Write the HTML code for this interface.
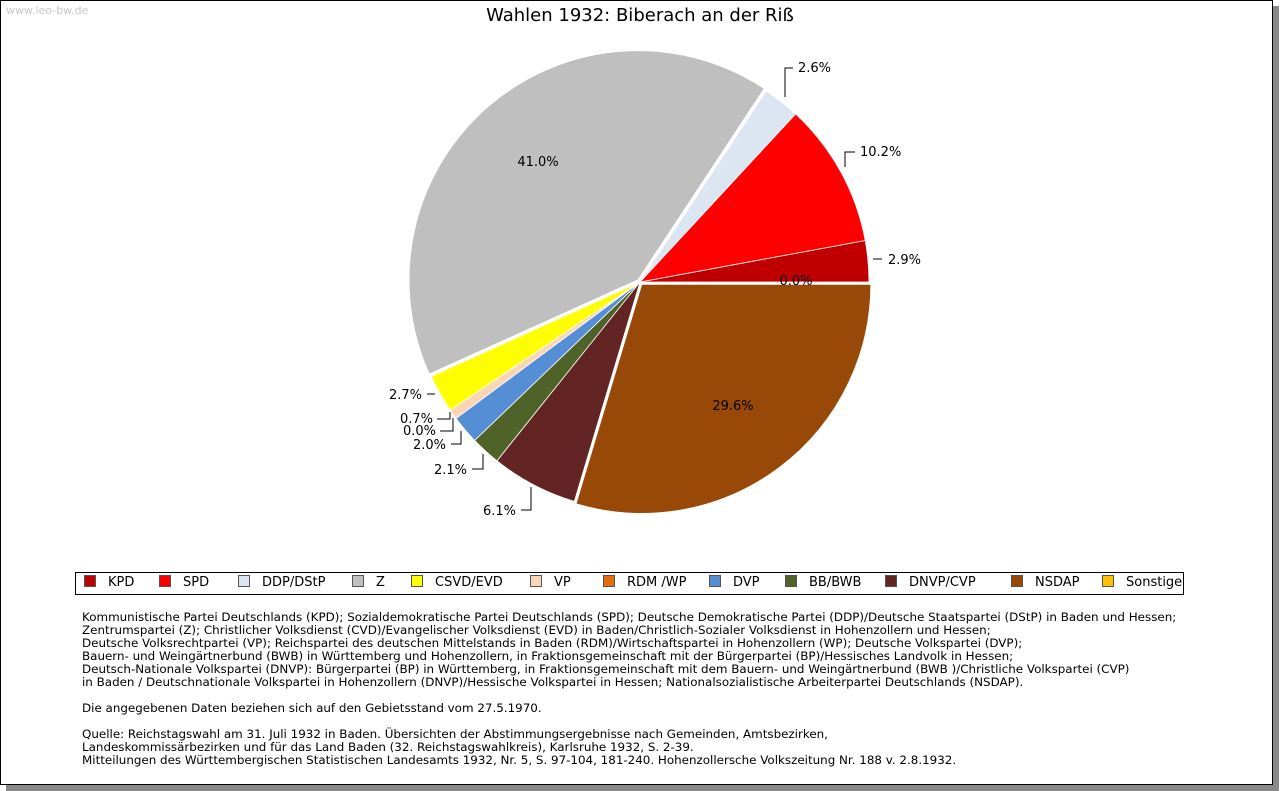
<!DOCTYPE html>
<html><head><meta charset="utf-8"><style>
body{margin:0;background:#fff;width:1280px;height:791px;overflow:hidden;font-family:"DejaVu Sans","Liberation Sans",sans-serif}
#frame{position:absolute;left:0;top:0;width:1271px;height:783px;border:1px solid #000;box-shadow:6px 6px 0 #888;background:#fff}
#wm{position:absolute;left:6px;top:4px;font-size:11px;color:#c8c8c8}
#title{position:absolute;left:0;width:1280px;top:5px;text-align:center;font-size:18px;color:#000}
#legend{position:absolute;left:75px;top:572px;width:1107px;height:21px;border:1px solid #000;font-size:13px}
.li{position:absolute;top:2px;white-space:nowrap}
.sw{display:inline-block;width:10px;height:10px;border:1px solid #555;vertical-align:-1px;margin-right:12px}
#notes{position:absolute;left:82px;top:611px;font-size:11.9px;line-height:13px;color:#000;white-space:pre}
</style></head><body>
<div id="frame"></div>
<div id="wm">www.leo-bw.de</div>
<div id="title">Wahlen 1932: Biberach an der Riß</div>
<svg id="pie" width="1280" height="791" style="position:absolute;left:0;top:0"></svg>
<div id="legend"></div>
<div id="notes">Kommunistische Partei Deutschlands (KPD); Sozialdemokratische Partei Deutschlands (SPD); Deutsche Demokratische Partei (DDP)/Deutsche Staatspartei (DStP) in Baden und Hessen;
Zentrumspartei (Z); Christlicher Volksdienst (CVD)/Evangelischer Volksdienst (EVD) in Baden/Christlich-Sozialer Volksdienst in Hohenzollern und Hessen;
Deutsche Volksrechtpartei (VP); Reichspartei des deutschen Mittelstands in Baden (RDM)/Wirtschaftspartei in Hohenzollern (WP); Deutsche Volkspartei (DVP);
Bauern- und Weingärtnerbund (BWB) in Württemberg und Hohenzollern, in Fraktionsgemeinschaft mit der Bürgerpartei (BP)/Hessisches Landvolk in Hessen;
Deutsch-Nationale Volkspartei (DNVP): Bürgerpartei (BP) in Württemberg, in Fraktionsgemeinschaft mit dem Bauern- und Weingärtnerbund (BWB )/Christliche Volkspartei (CVP)
in Baden / Deutschnationale Volkspartei in Hohenzollern (DNVP)/Hessische Volkspartei in Hessen; Nationalsozialistische Arbeiterpartei Deutschlands (NSDAP).

Die angegebenen Daten beziehen sich auf den Gebietsstand vom 27.5.1970.

Quelle: Reichstagswahl am 31. Juli 1932 in Baden. Übersichten der Abstimmungsergebnisse nach Gemeinden, Amtsbezirken,
Landeskommissärbezirken und für das Land Baden (32. Reichstagswahlkreis), Karlsruhe 1932, S. 2-39.
Mitteilungen des Württembergischen Statistischen Landesamts 1932, Nr. 5, S. 97-104, 181-240. Hohenzollersche Volkszeitung Nr. 188 v. 2.8.1932.</div>
<script>
const parties=["KPD","SPD","DDP/DStP","Z","CSVD/EVD","VP","RDM /WP","DVP","BB/BWB","DNVP/CVP","NSDAP","Sonstige"];
const shares=[2.9,10.2,2.6,41.0,2.7,0.7,0.0,2.0,2.1,6.1,29.6,0.0];
const colors=["#c00000","#ff0000","#dce6f2","#bfbfbf","#ffff00","#fcd5b5","#e46c0a","#558ed5","#4f6228","#632523","#984807","#ffc000"];
const exploded=[false,false,false,true,false,false,false,false,false,false,true,false];
const labelLayout=[
 {x:888,y:264,a:"start",l:[[873,259],[882,259]]},
 {x:860,y:156,a:"start",l:[[845,167],[845,152],[855,152]]},
 {x:798,y:72,a:"start",l:[[785,97],[785,68],[793,68]]},
 {x:538,y:166,a:"middle",l:null},
 {x:422,y:399,a:"end",l:[[427,394],[435,394]]},
 {x:433,y:423,a:"end",l:[[437,419],[450,419],[450,412]]},
 {x:436,y:435,a:"end",l:[[440,431],[453,431],[453,418]]},
 {x:446,y:449,a:"end",l:[[451,444],[461,444],[461,431]]},
 {x:467,y:474,a:"end",l:[[472,469],[483,469],[483,454]]},
 {x:516,y:515,a:"end",l:[[521,510],[531,510],[531,487]]},
 {x:733,y:410,a:"middle",l:null},
 {x:796,y:285,a:"middle",l:null}
];
const svg=document.getElementById('pie');const NS="http://www.w3.org/2000/svg";
const cx=640,cy=282,R=229,total=shares.reduce((a,b)=>a+b,0);
function pt(a,r,ox,oy){return [cx+ox+r*Math.cos(a),cy+oy-r*Math.sin(a)];}
let acc=0;
shares.forEach((v,i)=>{
 const a0=acc/total*2*Math.PI;acc+=v;const a1=acc/total*2*Math.PI;
 if(v>0){
  const m=(a0+a1)/2;const ox=exploded[i]?3*Math.cos(m):0,oy=exploded[i]?-3*Math.sin(m):0;
  const p0=pt(a0,R,ox,oy),p1=pt(a1,R,ox,oy);
  const path=document.createElementNS(NS,'path');
  path.setAttribute('d',`M${cx+ox},${cy+oy}L${p0[0]},${p0[1]}A${R},${R} 0 ${a1-a0>Math.PI?1:0} 0 ${p1[0]},${p1[1]}Z`);
  path.setAttribute('fill',colors[i]);path.setAttribute('stroke','#fff');path.setAttribute('stroke-width','0.8');
  
  
  svg.appendChild(path);
 }
});
shares.forEach((v,i)=>{
 const L=labelLayout[i];
 if(L.l){const pl=document.createElementNS(NS,'polyline');
  pl.setAttribute('points',L.l.map(p=>p.join(',')).join(' '));pl.setAttribute('fill','none');pl.setAttribute('stroke','#000');
  
  
  svg.appendChild(pl);}
 const t=document.createElementNS(NS,'text');t.setAttribute('x',L.x);t.setAttribute('y',L.y);t.setAttribute('text-anchor',L.a);
 t.setAttribute('font-size','13');t.setAttribute('font-family','DejaVu Sans, sans-serif');t.textContent=v.toFixed(1)+'%';
 
 
 svg.appendChild(t);
});
const lx=[8,83,162,276,335,454,527,633,709,809,935,1026];
const lg=document.getElementById('legend');
parties.forEach((p,i)=>{const d=document.createElement('div');d.className='li';d.style.left=lx[i]+'px';
 d.innerHTML=`<span class="sw" style="background:${colors[i]}"></span>${p}`;
 
 
 lg.appendChild(d);});
</script>
</body></html>
